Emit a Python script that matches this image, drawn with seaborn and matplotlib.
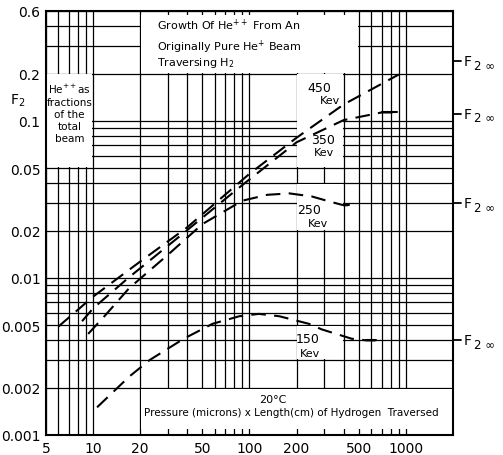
import matplotlib
matplotlib.use("Agg")
import matplotlib.pyplot as plt
import matplotlib.transforms as mtransforms
from matplotlib.patches import Rectangle
from matplotlib.ticker import FixedLocator, LogLocator, NullFormatter
import pandas as pd
import seaborn as sns

sns.set_style("white")
plt.rcParams["font.family"] = ["DejaVu Sans"]
plt.rcParams["mathtext.default"] = "regular"
plt.rcParams["text.color"] = "black"
plt.rcParams["xtick.color"] = "black"
plt.rcParams["ytick.color"] = "black"
plt.rcParams["axes.labelcolor"] = "black"

# He++ fraction F2 versus pressure x length, one curve per beam energy
x_450 = [6, 10, 20, 40, 100, 200, 400, 900]
y_450 = [0.0049, 0.0076, 0.0127, 0.021, 0.046, 0.078, 0.127, 0.197]

x_350 = [8.5, 10, 17, 36, 90, 200, 400, 700, 880]
y_350 = [0.0053, 0.0064, 0.0101, 0.0185, 0.039, 0.073, 0.101, 0.113, 0.113]

x_250 = [9.3, 12, 17, 30, 50, 90, 130, 180, 250, 330, 400, 430]
y_250 = [0.0044, 0.0058, 0.0086, 0.0140, 0.022, 0.031, 0.0338, 0.0345, 0.033, 0.0305, 0.029, 0.029]

x_150 = [10.6, 17, 23, 38, 58, 86, 115, 155, 240, 290, 450, 560, 640]
y_150 = [0.0015, 0.00235, 0.0030, 0.0041, 0.0051, 0.0057, 0.0059, 0.0057, 0.0051, 0.0047, 0.0041, 0.0040, 0.0040]

# equilibrium fractions marked on the right edge (450, 350, 250, 150 keV)
f2_inf = [0.24, 0.111, 0.030, 0.0040]

energies = ["450", "350", "250", "150"]

x_ticks = [5, 10, 20, 50, 100, 200, 500, 1000]
x_tick_labels = ["5", "10", "20", "50", "100", "200", "500", "1000"]
y_ticks = [0.001, 0.002, 0.005, 0.01, 0.02, 0.05, 0.1, 0.2, 0.5]
y_tick_labels = ["0.001", "0.002", "0.005", "0.01", "0.02", "0.05", "0.1", "0.2", "0.6"]

frames = []
for name, xs, ys in [("450", x_450, y_450), ("350", x_350, y_350),
                     ("250", x_250, y_250), ("150", x_150, y_150)]:
    frames.append(pd.DataFrame({"x": xs, "F2": ys, "kev": name}))
data = pd.concat(frames, ignore_index=True)

fig = plt.figure(figsize=(5.03, 4.56), dpi=100)
ax = fig.add_axes([0.0915, 0.0439, 0.809, 0.9298])
ax.set_xscale("log")
ax.set_yscale("log")
ax.set_xlim(5, 2000)
ax.set_ylim(0.001, 0.5)

# full log-paper grid
ax.xaxis.set_major_locator(FixedLocator(x_ticks))
ax.xaxis.set_minor_locator(LogLocator(base=10, subs=range(1, 10), numticks=20))
ax.yaxis.set_major_locator(FixedLocator(y_ticks))
ax.yaxis.set_minor_locator(LogLocator(base=10, subs=range(1, 10), numticks=20))
ax.set_xticklabels(x_tick_labels, fontsize=10)
ax.set_yticklabels(y_tick_labels, fontsize=10)
ax.xaxis.set_minor_formatter(NullFormatter())
ax.yaxis.set_minor_formatter(NullFormatter())
ax.tick_params(which="both", length=0, pad=4, labelcolor="black")
ax.set_axisbelow(True)
ax.grid(True, which="both", color="black", linewidth=0.9)
for sp in ax.spines.values():
    sp.set_color("black")
    sp.set_linewidth(1.5)

# blank label panels cut out of the grid
panels = [(20, 500, 0.2, 0.48), (5, 10, 0.05, 0.2), (200, 400, 0.05, 0.2),
          (200, 400, 0.02, 0.04), (200, 400, 0.003, 0.005), (20, 2000, 0.00108, 0.002)]
k = 1.012
for x0, x1, y0, y1 in panels:
    ax.add_patch(Rectangle((x0 * k, y0 * k), x1 / k - x0 * k, y1 / k - y0 * k,
                           facecolor="white", edgecolor="none", zorder=1))

dash = (0, (7, 4))
for name in energies:
    sub = data[data["kev"] == name]
    sns.lineplot(data=sub, x="x", y="F2", ax=ax, color="black", linewidth=1.5,
                 linestyle=dash, sort=False, zorder=3)
    if name != "450":
        tail = sub.iloc[-2:]
        sns.lineplot(data=tail, x="x", y="F2", ax=ax, color="black", linewidth=1.5,
                     sort=False, zorder=3)
ax.set_xlabel("")
ax.set_ylabel("")

# curve labels
curve_text = [("450", 278, 0.163), ("Kev", 327, 0.135),
              ("350", 296, 0.0762), ("Kev", 300, 0.0630),
              ("250", 241, 0.0272), ("Kev", 275, 0.0222),
              ("150", 234, 0.00412), ("Kev", 245, 0.00332)]
for s, xv, yv in curve_text:
    fs = 9 if s != "Kev" else 8
    ax.text(xv, yv, s, ha="center", va="center", fontsize=fs, zorder=4)

# heading
ax.text(0.273, 0.969, r"Growth Of He$^{++}$ From An", transform=ax.transAxes,
        ha="left", va="center", fontsize=8)
ax.text(0.273, 0.917, r"Originally Pure He$^{+}$ Beam", transform=ax.transAxes,
        ha="left", va="center", fontsize=8)
ax.text(0.273, 0.880, r"Traversing H$_2$", transform=ax.transAxes,
        ha="left", va="center", fontsize=8)

# left panel note
ax.text(0.058, 0.833, "He$^{++}$as\nfractions\nof the\ntotal\nbeam",
        transform=ax.transAxes, ha="center", va="top", fontsize=7.5, linespacing=1.25)

# axis caption inside the lower panel
ax.text(0.558, 0.085, "20°C", transform=ax.transAxes, ha="center", va="center",
        fontsize=8)
ax.text(0.602, 0.054, "Pressure (microns) x Length(cm) of Hydrogen  Traversed",
        transform=ax.transAxes, ha="center", va="center", fontsize=7.5)

# vertical axis name
ax.text(-0.069, 0.79, "F$_2$", transform=ax.transAxes, ha="center", va="center",
        fontsize=10)

# equilibrium markers outside the right edge
trans = mtransforms.blended_transform_factory(ax.transAxes, ax.transData)
for v in f2_inf:
    ax.plot([1.0, 1.02], [v, v], transform=trans, color="black", linewidth=1.3,
            clip_on=False)
    ax.text(1.027, v, "F", transform=trans, ha="left", va="center", fontsize=10)
    ax.annotate("2 ∞", xy=(1.027, v), xycoords=trans, xytext=(7, -3),
                textcoords="offset points", ha="left", va="center", fontsize=8.5,
                annotation_clip=False)

fig.savefig("out.png", dpi=100)
